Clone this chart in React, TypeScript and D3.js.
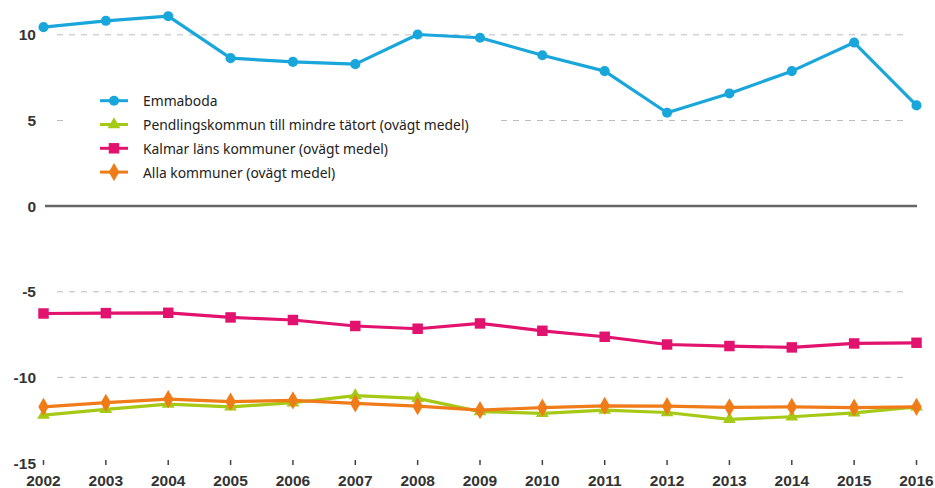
import React from "react";
import * as d3 from "d3";

// years on the x axis
const years = [2002, 2003, 2004, 2005, 2006, 2007, 2008, 2009, 2010, 2011, 2012, 2013, 2014, 2015, 2016];

// series values
const emmaboda = [10.45, 10.82, 11.09, 8.64, 8.42, 8.29, 10.02, 9.83, 8.81, 7.88, 5.45, 6.58, 7.88, 9.55, 5.88];
const pendling = [-12.2, -11.87, -11.56, -11.72, -11.48, -11.07, -11.23, -12.0, -12.1, -11.91, -12.05, -12.45, -12.3, -12.07, -11.72];
const kalmar = [-6.27, -6.25, -6.23, -6.5, -6.65, -7.0, -7.16, -6.85, -7.28, -7.63, -8.08, -8.17, -8.25, -8.02, -7.98];
const alla = [-11.72, -11.48, -11.27, -11.42, -11.34, -11.52, -11.68, -11.91, -11.77, -11.66, -11.68, -11.75, -11.72, -11.77, -11.72];

const yTicks = [10, 5, 0, -5, -10, -15];

const series = [
  { name: "Emmaboda", values: emmaboda, color: "#19a6db", marker: "circle" },
  { name: "Pendlingskommun till mindre tätort (ovägt medel)", values: pendling, color: "#a6c915", marker: "triangle" },
  { name: "Kalmar läns kommuner (ovägt medel)", values: kalmar, color: "#e2136f", marker: "square" },
  { name: "Alla kommuner (ovägt medel)", values: alla, color: "#f07c19", marker: "diamond" },
];

// draw order: green under orange
const drawOrder = [2, 1, 3, 0];

const W = 935;
const H = 488;

const x = d3.scaleLinear().domain([2002, 2016]).range([43.5, 916.5]);
const y = d3.scaleLinear().domain([-15, 12]).range([463, 0.6]);

const symbolFor = (m: string) =>
  m === "circle" ? d3.symbolCircle : m === "triangle" ? d3.symbolTriangle : m === "square" ? d3.symbolSquare : d3.symbolDiamond;
const sizeFor = (m: string) => (m === "circle" ? 80 : m === "triangle" ? 70 : m === "square" ? 110 : 95);

const Marker = ({ m, cx, cy, color }: { m: string; cx: number; cy: number; color: string }) => (
  <path
    d={d3.symbol().type(symbolFor(m)).size(sizeFor(m))()!}
    transform={`translate(${cx},${cy})`}
    fill={color}
  />
);

export default function App() {
  const line = d3
    .line<number>()
    .x((_, i) => x(years[i]))
    .y((v) => y(v));

  const axisFont = { fontFamily: "'Liberation Sans', Arial, sans-serif", fontWeight: 700, fontSize: 15.5, fill: "#333" };

  return (
    <div style={{ position: "fixed", left: 0, top: 0 }}>
      <svg width={W} height={H} style={{ display: "block", background: "#fff" }}>
        {/* grid */}
        {yTicks
          .filter((t) => t !== 0 && t !== -15)
          .map((t) => (
            <line key={t} x1={57} x2={903} y1={y(t)} y2={y(t)} stroke="#bbb" strokeWidth={1} strokeDasharray="6,6" />
          ))}
        <line x1={45} x2={917} y1={y(0)} y2={y(0)} stroke="#666" strokeWidth={2.5} />

        {/* y labels */}
        {yTicks.map((t) => (
          <text key={t} x={36} y={y(t)} textAnchor="end" dominantBaseline="central" style={axisFont}>
            {t}
          </text>
        ))}

        {/* x ticks & labels */}
        {years.map((yr) => (
          <g key={yr}>
            <line x1={x(yr)} x2={x(yr)} y1={460} y2={465} stroke="#444" strokeWidth={1.5} />
            <text x={x(yr)} y={486} textAnchor="middle" style={axisFont}>
              {yr}
            </text>
          </g>
        ))}

        {/* legend box */}
        <rect x={69} y={84} width={432} height={104} fill="#fff" />
        {series.map((s, i) => {
          const ly = 100.7 + i * 23.8;
          return (
            <g key={s.name}>
              <line x1={100} x2={128} y1={ly} y2={ly} stroke={s.color} strokeWidth={3} />
              <Marker m={s.marker} cx={114} cy={ly} color={s.color} />
              <text
                x={143}
                y={ly}
                dominantBaseline="central"
                style={{ fontFamily: "'Noto Sans', sans-serif", fontSize: 13.85, fill: "#222" }}
              >
                {s.name}
              </text>
            </g>
          );
        })}

        {/* series */}
        {drawOrder.map((k) => {
          const s = series[k];
          return (
            <g key={s.name}>
              <path d={line(s.values)!} fill="none" stroke={s.color} strokeWidth={3.2} strokeLinejoin="round" />
              {s.values.map((v, i) => (
                <Marker key={i} m={s.marker} cx={x(years[i])} cy={y(v)} color={s.color} />
              ))}
            </g>
          );
        })}
      </svg>
    </div>
  );
}
